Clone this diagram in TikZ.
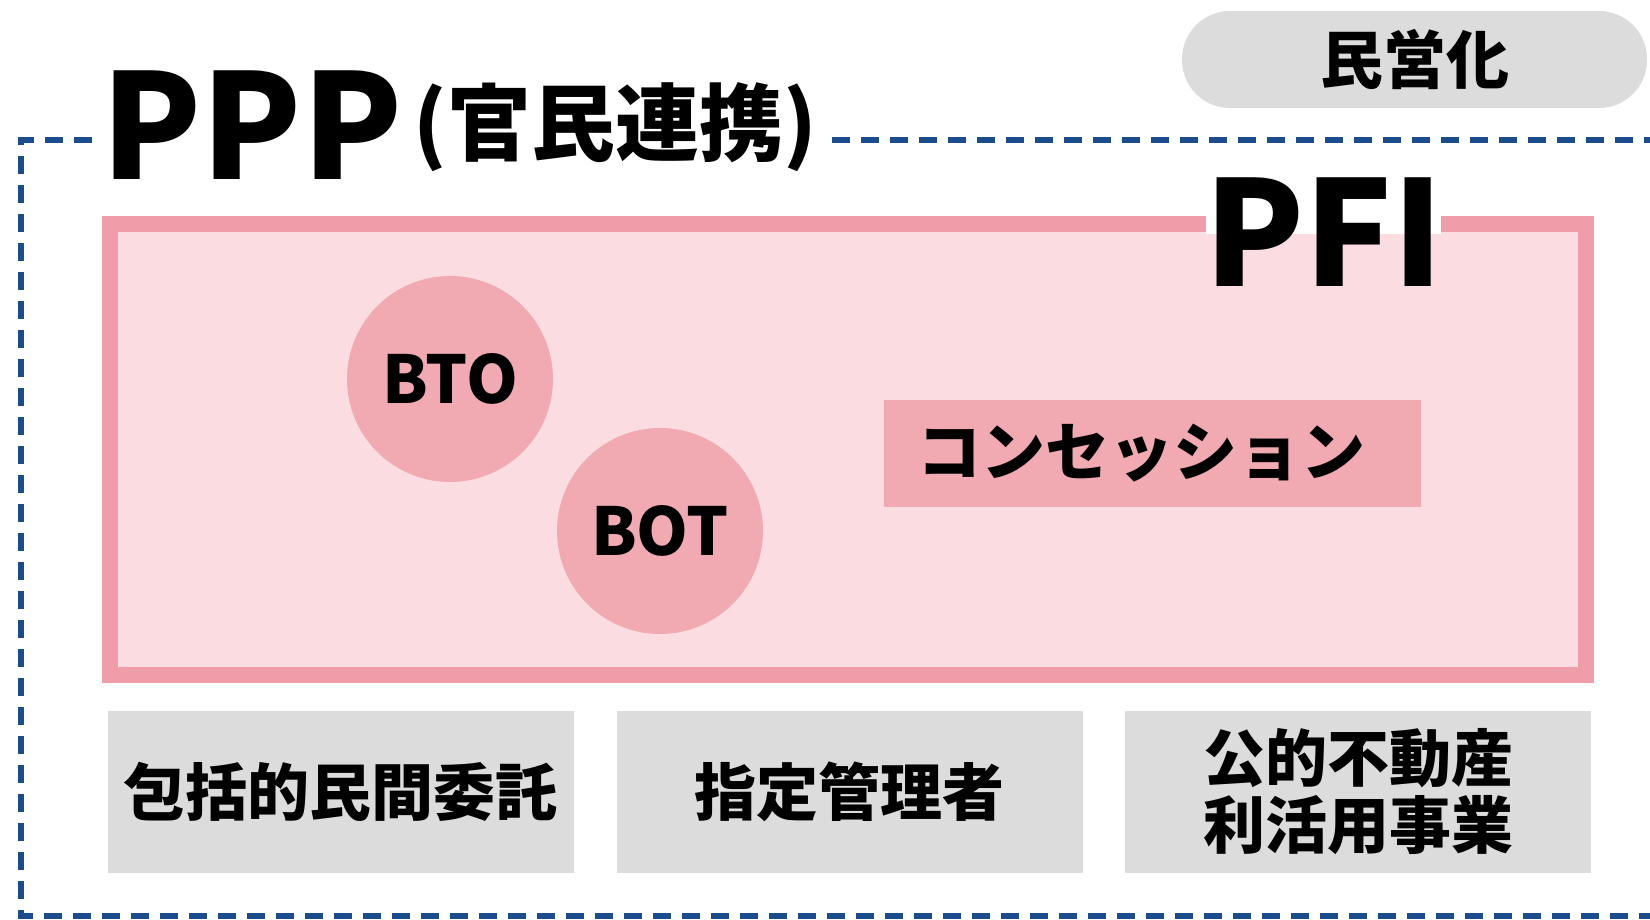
\documentclass[tikz,border=0pt]{standalone}
\usepackage{fontspec}
\newfontfamily\jp{Noto Sans CJK JP}
\definecolor{pinkborder}{HTML}{EE9DA9}
\definecolor{pinkfill}{HTML}{FBDDE1}
\definecolor{pinkdark}{HTML}{F1A9B2}
\definecolor{graybox}{HTML}{DCDCDC}
\definecolor{bluedash}{HTML}{1B4D8C}
\tikzset{
  bluedashline/.style={draw=bluedash, line width=6pt, dash pattern=on 18pt off 11pt},
  graycell/.style={fill=graybox, draw=none, minimum width=466pt, minimum height=162pt, inner sep=0pt, font=\jp\bfseries\fontsize{62}{68}\selectfont, align=center},
  circ/.style={circle, fill=pinkdark, draw=none, minimum size=206pt, inner sep=0pt, font=\jp\bfseries\fontsize{66}{70}\selectfont},
  bigtitle/.style={inner sep=0pt, font=\jp\bfseries\fontsize{146}{150}\selectfont},
}
\begin{document}
\begin{tikzpicture}[x=1pt,y=-1pt]
\useasboundingbox (0,0) rectangle (1650,919);
\fill[white] (0,0) rectangle (1650,919);

% outer dashed PPP frame
\coordinate (tl) at (21,140);
\coordinate (bl) at (21,916);
\coordinate (br) at (1660,916);
\coordinate (t1) at (92,140);
\coordinate (t2) at (832,140);
\coordinate (t3) at (1650,140);
\draw[bluedashline] (t1) -- (tl) -- (bl) -- (br);
\draw[bluedashline] (t2) -- (t3);

% PPP title
\node[bigtitle] (ppp) at (252,125) {PPP};
\node[inner sep=0pt, font=\jp\bfseries\fontsize{84}{90}\selectfont] (pppsub) at (615,127) {(官民連携)};

% 民営化 pill
\node[fill=graybox, draw=none, rounded corners=48pt, minimum width=465pt, minimum height=97pt, inner sep=0pt, font=\jp\bfseries\fontsize{63}{66}\selectfont] (mineika) at (1414.5,59.5) {民営化};

% PFI box
\draw[draw=pinkborder, fill=pinkfill, line width=16pt] (110,224) rectangle (1586,675);
\fill[white] (1206,213) rectangle (1441,234);
\node[bigtitle] (pfi) at (1324,232) {PFI};

% circles
\node[circ] (bto) at (450,379) {BTO};
\node[circ] (bot) at (660,531) {BOT};

% concession
\node[fill=pinkdark, draw=none, minimum width=537pt, minimum height=107pt, inner sep=0pt] (conc) at (1152.5,453.5) {};
\node[inner sep=0pt, font=\jp\bfseries\fontsize{64}{66}\selectfont] (conctext) at (1141,453) {コンセッション};

% bottom gray boxes
\node[graycell] (hokatsu) at (340.5,792) {包括的民間委託};
\node[graycell] (shitei) at (849.5,792) {指定管理者};
\node[graycell] (koteki) at (1358,792) {公的不動産\\[-1pt]利活用事業};
\end{tikzpicture}
\end{document}
